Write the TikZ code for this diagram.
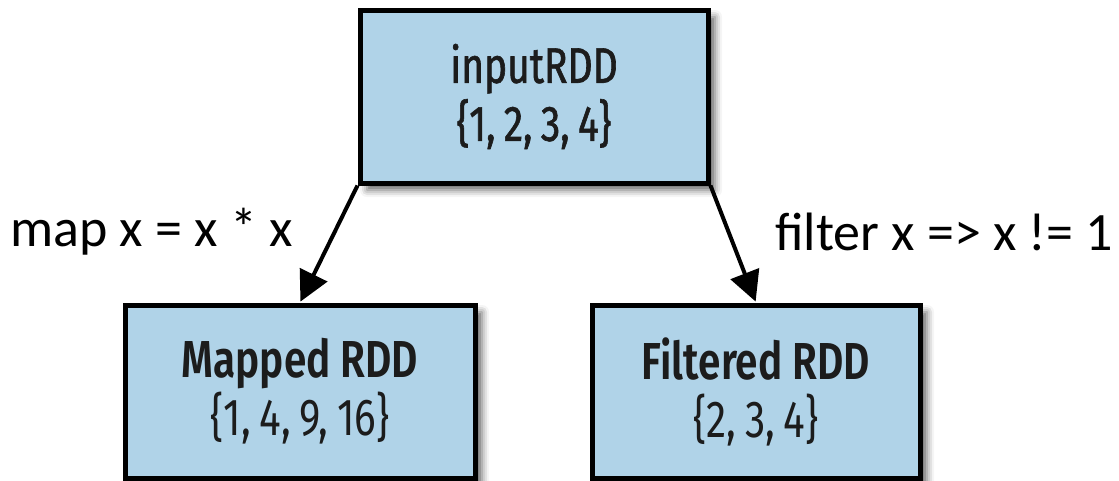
\documentclass[tikz,border=0pt]{standalone}
\usepackage{fontspec}
\setmainfont{Carlito}
\newfontfamily\condfont[FakeStretch=0.78]{Fira Sans}
\newfontfamily\condmid[FakeStretch=0.78,FakeBold=1.2]{Fira Sans}
\newfontfamily\condbold[FakeStretch=0.78]{Fira Sans SemiBold}
\usetikzlibrary{arrows.meta,shadows.blur}
\definecolor{boxblue}{HTML}{B0D3E8}
\definecolor{boxtext}{HTML}{1C1C1C}
\tikzset{
  rdd/.style={draw=black, line width=5pt, fill=boxblue, text=boxtext,
    align=center, inner sep=0pt,
    blur shadow={shadow xshift=7pt, shadow yshift=-7pt, shadow blur radius=7pt, shadow opacity=60}},
  flow/.style={line width=4pt, -{Triangle[length=30pt,width=30pt]}, shorten >=1pt},
  oplabel/.style={font=\fontsize{54}{60}\selectfont, text=black, inner sep=0pt}
}
\begin{document}
\begin{tikzpicture}[x=1pt,y=-1pt]
\useasboundingbox (0,0) rectangle (1119,480);
\clip (0,0) rectangle (1119,480);
\node[rdd, minimum width=348pt, minimum height=173pt,
  font=\condmid\fontsize{50}{58}\selectfont] (input) at (534,96.5)
  {inputRDD\\\{1,\,2,\,3,\,4\}};
\node[rdd, minimum width=350pt, minimum height=173pt,
  font=\fontsize{52}{62}\selectfont] (mapped) at (300,391.5)
  {{\condbold Mapped RDD}\\[-4pt]{\condfont\{1,\,4,\,9,\,16\}}};
\node[rdd, minimum width=328pt, minimum height=173pt,
  font=\fontsize{52}{62}\selectfont] (filtered) at (756,391.5)
  {{\condbold Filtered RDD}\\[-4pt]{\condfont\{2,\,3,\,4\}}};
\draw[flow] (input.south west) -- (mapped.north);
\draw[flow] (input.south east) -- (filtered.north);
\node[oplabel, anchor=west] (maplabel) at (10,232) {map x = x * x};
\node[oplabel, anchor=east] (filterlabel) at (1113,232) {filter x => x != 1};
\end{tikzpicture}
\end{document}
